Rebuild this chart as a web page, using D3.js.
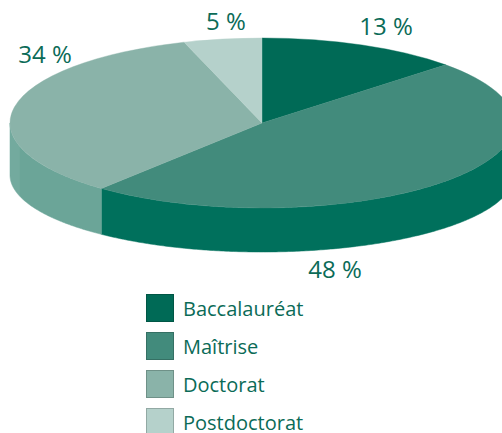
<!DOCTYPE html>
<html>
<head>
<meta charset="utf-8">
<script src="https://cdn.jsdelivr.net/npm/d3@7"></script>
<style>
  html, body { margin: 0; padding: 0; background: #fff; }
  svg { display: block; }
  text { font-family: "Open Sans", "Noto Sans", sans-serif; font-weight: 500; }
</style>
</head>
<body>
<svg id="chart" width="502" height="433"></svg>
<script>
// ---- data ----
const categories = ["Baccalauréat", "Maîtrise", "Doctorat", "Postdoctorat"];
const values = [13, 48, 34, 5];
const valueLabels = ["13 %", "48 %", "34 %", "5 %"];

// ---- styles / layout ----
const topColors  = ["#006a56", "#428b7c", "#8ab3a9", "#b5d1cb"];
const sideColors = ["#005e4c", "#00705c", "#6ba598", "#9fc2ba"];
const textColor = "#0b6b57";

const W = 502, H = 433;
const cx = 262, rx = 252;
const cyTop = 123, ryTop = 85;      // top face ellipse
const cyBot = 175, ryBot = 77;      // bottom rim ellipse (perspective)

// label anchor (text centre x, baseline y), per category
const labelAnchors = [[386, 35], [335, 278], [45, 63], [226, 30]];

const svg = d3.select("#chart");

const pie = d3.pie().sort(null).value(d => d);
const arcs = pie(values).map((a, i) => ({...a, i}));

const topPt = a => [cx + rx * Math.sin(a), cyTop - ryTop * Math.cos(a)];
const botPt = a => [cx + rx * Math.sin(a), cyBot - ryBot * Math.cos(a)];

function sample(a0, a1, f) {
  const n = Math.max(2, Math.ceil(Math.abs(a1 - a0) / 0.01));
  return d3.range(n + 1).map(k => f(a0 + (a1 - a0) * k / n));
}

// ---- side walls (front half only: PI/2 .. 3PI/2) ----
const sideG = svg.append("g");
arcs.forEach(d => {
  const a0 = Math.max(d.startAngle, Math.PI / 2);
  const a1 = Math.min(d.endAngle, 3 * Math.PI / 2);
  if (a1 <= a0) return;
  const pts = sample(a0, a1, topPt).concat(sample(a1, a0, botPt));
  sideG.append("path")
    .attr("d", d3.line()(pts) + "Z")
    .attr("fill", sideColors[d.i])
    .attr("stroke", sideColors[d.i])
    .attr("stroke-width", 0.5);
});
// faint facet highlight near the left silhouette
{
  const a0 = 3 * Math.PI / 2 - 0.28, a1 = 3 * Math.PI / 2;
  const pts = sample(a0, a1, topPt).concat(sample(a1, a0, botPt));
  sideG.append("path").attr("d", d3.line()(pts) + "Z")
    .attr("fill", "#ffffff").attr("opacity", 0.06);
}

// ---- top face ----
const arcGen = d3.arc().innerRadius(0).outerRadius(rx);
svg.append("g")
  .attr("transform", `translate(${cx},${cyTop}) scale(1,${ryTop / rx})`)
  .selectAll("path")
  .data(arcs)
  .join("path")
  .attr("d", arcGen)
  .attr("fill", d => topColors[d.i])
  .attr("stroke", d => topColors[d.i])
  .attr("stroke-width", 0.6);

// ---- value labels ----
svg.append("g")
  .selectAll("text")
  .data(arcs)
  .join("text")
  .attr("x", d => labelAnchors[d.i][0])
  .attr("y", d => labelAnchors[d.i][1])
  .attr("text-anchor", "middle")
  .attr("font-size", 24)
  .attr("fill", textColor)
  .text(d => valueLabels[d.i]);

// ---- legend ----
const legY = d3.scalePoint().domain(categories).range([294, 408]);
const leg = svg.append("g").selectAll("g")
  .data(categories)
  .join("g")
  .attr("transform", c => `translate(146,${legY(c)})`);
leg.append("rect")
  .attr("x", 0.5).attr("y", 0.5)
  .attr("width", 27).attr("height", 27)
  .attr("fill", (c, i) => topColors[i])
  .attr("stroke", (c, i) => d3.color(topColors[i]).darker(0.6))
  .attr("stroke-width", 1);
leg.append("text")
  .attr("x", 37)
  .attr("y", 22)
  .attr("font-size", 20)
  .attr("fill", textColor)
  .text(c => c);
</script>
</body>
</html>
